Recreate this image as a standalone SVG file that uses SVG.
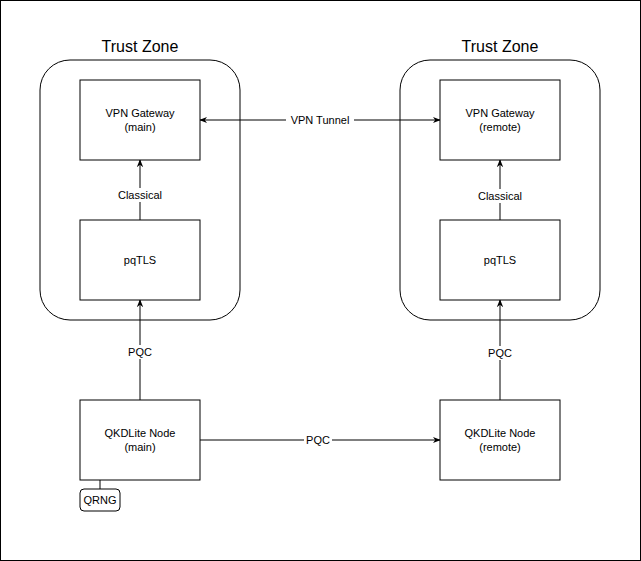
<svg xmlns="http://www.w3.org/2000/svg" width="641" height="561" viewBox="0 0 641 561">
<style>
.b{fill:#fff;stroke:#000;stroke-width:1}
.z{fill:none;stroke:#000;stroke-width:1}
text{font-family:"Liberation Sans",Arial,sans-serif;font-size:11px;text-anchor:middle;fill:#000}
.t{font-size:16px}
.c{stroke:#000;stroke-width:1;fill:none}
.l{fill:#fff}
</style>
<defs><marker id="a" viewBox="0 0 10 10" refX="9" refY="5" markerWidth="8" markerHeight="8" orient="auto-start-reverse"><path d="M0,1 L10,5 L0,9 L3,5 Z" fill="#000"/></marker></defs>
<rect x="0.5" y="0.5" width="640" height="560" fill="#fff" stroke="#000"/>
<g id="zoneL"><rect class="z" x="40" y="60" width="200" height="260" rx="30"/><text class="t" x="140" y="52">Trust Zone</text></g>
<g id="zoneR"><rect class="z" x="400" y="60" width="200" height="260" rx="30"/><text class="t" x="500" y="52">Trust Zone</text></g>
<g id="connectors">
<path class="c" d="M200,120 H440" marker-start="url(#a)" marker-end="url(#a)"/>
<rect class="l" x="286" y="113" width="68" height="14"/><text x="320" y="124">VPN Tunnel</text>
<path class="c" d="M140,220 V160" marker-end="url(#a)"/>
<rect class="l" x="114" y="188" width="52" height="14"/><text x="140" y="199">Classical</text>
<path class="c" d="M500,220 V160" marker-end="url(#a)"/>
<rect class="l" x="474" y="189" width="52" height="14"/><text x="500" y="200">Classical</text>
<path class="c" d="M140,400 V300" marker-end="url(#a)"/>
<rect class="l" x="126" y="345" width="28" height="14"/><text x="140" y="356">PQC</text>
<path class="c" d="M500,400 V300" marker-end="url(#a)"/>
<rect class="l" x="486" y="346" width="28" height="14"/><text x="500" y="357">PQC</text>
<path class="c" d="M200,440 H440" marker-end="url(#a)"/>
<rect class="l" x="304" y="433" width="28" height="14"/><text x="318" y="444">PQC</text>
<path class="c" d="M100,480 V489"/>
</g>
<g id="vpnL"><rect class="b" x="80" y="80" width="120" height="80"/><text x="140" y="117">VPN Gateway</text><text x="140" y="131">(main)</text></g>
<g id="vpnR"><rect class="b" x="440" y="80" width="120" height="80"/><text x="500" y="117">VPN Gateway</text><text x="500" y="131">(remote)</text></g>
<g id="pqL"><rect class="b" x="80" y="220" width="120" height="80"/><text x="140" y="264">pqTLS</text></g>
<g id="pqR"><rect class="b" x="440" y="220" width="120" height="80"/><text x="500" y="264">pqTLS</text></g>
<g id="qkdL"><rect class="b" x="80" y="400" width="120" height="80"/><text x="140" y="437">QKDLite Node</text><text x="140" y="451">(main)</text></g>
<g id="qkdR"><rect class="b" x="440" y="400" width="120" height="80"/><text x="500" y="437">QKDLite Node</text><text x="500" y="451">(remote)</text></g>
<g id="qrng"><rect class="b" x="80" y="489" width="40" height="22" rx="4"/><text x="100" y="504">QRNG</text></g>
</svg>
